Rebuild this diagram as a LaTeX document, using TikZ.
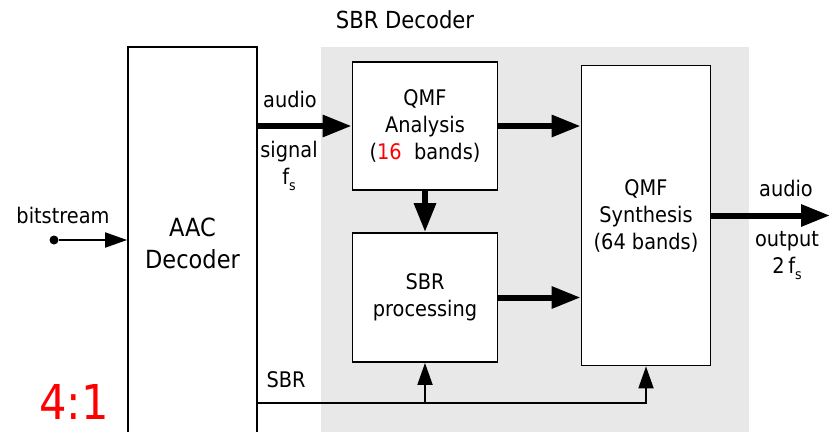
\documentclass[tikz,border=0pt]{standalone}
\usepackage{fontspec}
\setmainfont{DejaVu Sans}[FakeStretch=0.9]
\usetikzlibrary{arrows.meta}

% lowered subscript s for the sampling rate
\newcommand{\fsub}{f\raisebox{-6pt}{\fontsize{14}{14}\selectfont s}}

\begin{document}
\begin{tikzpicture}[x=1pt, y=-1pt,
  % boxes of the decoder chain
  block/.style={draw, line width=1.8pt, fill=white, align=center, inner sep=0pt,
                font=\fontsize{21.5}{27}\selectfont},
  % free text labels
  lbl/.style={align=center, inner sep=0pt, font=\fontsize{21.5}{27}\selectfont},
  % signal paths
  bigflow/.style={line width=6pt, -{Triangle[length=29pt,width=21pt]}},
  smallflow/.style={line width=1.8pt, -{Triangle[length=22pt,width=15pt]}}
]
  \useasboundingbox (0,0) rectangle (832,431);

  % SBR decoder area
  \fill[gray!18] (321,47) rectangle (749,440);
  \node[lbl, font=\fontsize{23.5}{26}\selectfont] (title) at (405,20) {SBR Decoder};

  % Core decoder
  \node[block, minimum width=129pt, minimum height=392pt,
        font=\fontsize{25}{32}\selectfont] (aac) at (192.5,243) {AAC\\Decoder};

  % SBR part
  \node[block, minimum width=145pt, minimum height=128pt] (qmfa) at (425,126)
        {QMF\\Analysis\\(\textcolor{red}{16}\ \ bands)};
  \node[block, minimum width=145pt, minimum height=129pt] (sbrp) at (425,297.5)
        {SBR\\processing};
  \node[block, minimum width=129pt, minimum height=300pt] (qmfs) at (646,215.5)
        {QMF\\Synthesis\\(64 bands)};

  % Input
  \node[circle, fill, inner sep=0pt, minimum size=9pt] (bsin) at (54,240) {};
  \node[lbl] (bslbl) at (63,215) {bitstream};
  \draw[smallflow] (bsin) -- (aac.west |- bsin);

  % Labels
  \node[lbl] (audin) at (290,99) {audio};
  \node[lbl] (sigin) at (289,166) {signal\\\fsub};
  \node[lbl] (audout) at (786,188) {audio};
  \node[lbl] (sigout) at (787,256) {output\\2\,\fsub};
  \node[lbl] (sbrlbl) at (286,380) {SBR};
  \node[lbl, text=red, font=\fontsize{48}{48}\selectfont] (ratio) at (74,402) {4:1};

  % Thick signal paths
  \coordinate (out) at (830,215.5);
  \draw[bigflow] (aac.east |- qmfa) -- (qmfa.west);
  \draw[bigflow] (qmfa.east) -- (qmfa.east -| qmfs.west);
  \draw[bigflow] (qmfa.south) -- (sbrp.north);
  \draw[bigflow] (sbrp.east) -- (sbrp.east -| qmfs.west);
  \draw[bigflow] (qmfs.east) -- (out);

  % SBR side information
  \coordinate (sbrtap) at (257,403);
  \draw[smallflow] (sbrtap) -| (qmfs.south);
  \draw[smallflow] (sbrtap -| sbrp.south) -- (sbrp.south);

\end{tikzpicture}
\end{document}
